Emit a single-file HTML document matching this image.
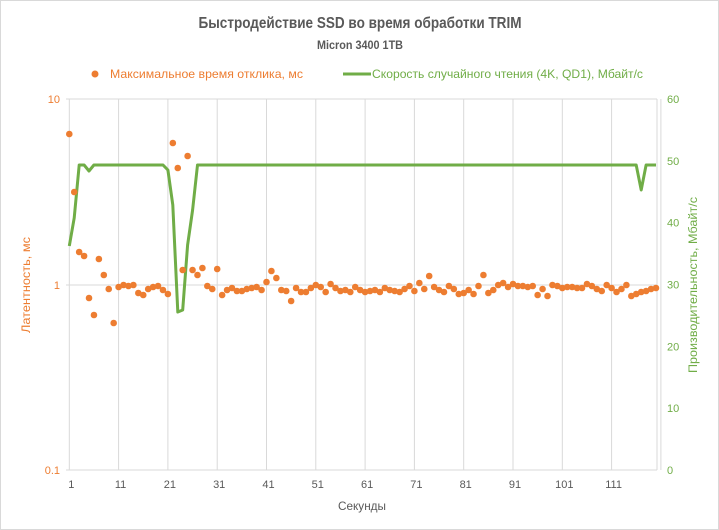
<!DOCTYPE html>
<html><head><meta charset="utf-8">
<style>
html,body{margin:0;padding:0;background:#fff;}
body{width:719px;height:530px;overflow:hidden;}
svg{display:block;font-family:"Liberation Sans","DejaVu Sans",sans-serif;}
</style></head>
<body>
<svg id="c" width="719" height="530" xmlns="http://www.w3.org/2000/svg">
<rect x="0.5" y="0.5" width="718" height="529" fill="#fff" stroke="#d9d9d9"/>
<text x="360" y="28" text-anchor="middle" font-size="16" font-weight="bold" fill="#595959" textLength="323" lengthAdjust="spacingAndGlyphs">Быстродействие SSD во время обработки TRIM</text>
<text x="360" y="49" text-anchor="middle" font-size="12" font-weight="bold" fill="#595959" textLength="86" lengthAdjust="spacingAndGlyphs">Micron 3400 1TB</text>
<circle cx="95" cy="74" r="3.5" fill="#ed7d31"/>
<text x="110" y="78" font-size="12" fill="#ed7d31" textLength="193" lengthAdjust="spacingAndGlyphs">Максимальное время отклика, мс</text>
<line x1="343" y1="74" x2="371" y2="74" stroke="#70ad47" stroke-width="3"/>
<text x="372" y="78" font-size="12" fill="#70ad47" textLength="271" lengthAdjust="spacingAndGlyphs">Скорость случайного чтения (4K, QD1), Мбайт/с</text>
<g id="grid" stroke="#d9d9d9" stroke-width="1"></g>
<g font-size="11" fill="#ed7d31" text-anchor="end">
<text x="60" y="103">10</text><text x="60" y="289">1</text><text x="60" y="474">0.1</text>
</g>
<g id="rt" font-size="11" fill="#70ad47" text-anchor="start"></g>
<g id="xt" font-size="11" fill="#595959" text-anchor="middle"></g>
<text transform="translate(30,285) rotate(-90)" text-anchor="middle" font-size="12" fill="#ed7d31" textLength="96" lengthAdjust="spacingAndGlyphs">Латентность, мс</text>
<text transform="translate(697,285) rotate(-90)" text-anchor="middle" font-size="12" fill="#70ad47" textLength="176" lengthAdjust="spacingAndGlyphs">Производительность, Мбайт/с</text>
<text x="362" y="510" text-anchor="middle" font-size="12" fill="#595959" textLength="48" lengthAdjust="spacingAndGlyphs">Секунды</text>
<polyline id="gl" fill="none" stroke="#70ad47" stroke-width="3" stroke-linejoin="round"/>
<g id="dots" fill="#ed7d31"></g>
</svg>
<script>
var NS="http://www.w3.org/2000/svg";
function el(t,a,p){var e=document.createElementNS(NS,t);for(var k in a)e.setAttribute(k,a[k]);document.getElementById(p).appendChild(e);return e;}
var X0=69.3,DX=4.93,L=66,R=657,T=99,B=470;
function xi(i){return X0+DX*(i-1);}
[99,285,470].forEach(function(y){el('line',{x1:L,x2:R,y1:y,y2:y},'grid');});
for(var v=0;v<=60;v+=10){var y=B-(B-T)*v/60;var t=el('text',{x:667,y:y+4},'rt');t.textContent=v;}
for(var i=1;i<=121;i+=10){var x=xi(i);el('line',{x1:x,x2:x,y1:T,y2:B},'grid');if(i<=111){var t=el('text',{x:x+2,y:488},'xt');t.textContent=i;}}
el('line',{x1:R,x2:R,y1:T,y2:B},'grid');
var ly=[134,192,252,256,298,315,259,275,289,323,287,285,286,285,293,295,289,287,286,290,294,143,168,270,156,270,275,268,286,289,269,295];
var rest=[290,288,291,291,289,288,287,290,282,271,278,290,291,301,288,292,292,288,285,287,292,284,288,291,290,292,287,290,292,291,290,292,288,290,291,292,289,286,291,283,289,276,287,290,292,286,289,294,293,290,294,286,275,293,290,285,283,287,284,286,286,287,286,295,289,296,285,286,288,287,287,288,288,284,286,289,291,285,288,292,289,285,296,294,292,291,289,288,288,289,277,262,286,260,288];
ly=ly.concat(rest);
for(var i=0;i<ly.length&&i<120;i++)el('circle',{cx:xi(i+1),cy:ly[i],r:3.3},'dots');
var gy=[246,218,165,165,171,165,165,165,165,165,165,165,165,165,165,165,165,165,165,165,170,205,312,310,245,210,165,165,165,165,165];
while(gy.length<120)gy.push(165);
gy[116]=190;gy[115]=165;gy[117]=165;
var pts=gy.map(function(y,i){return xi(i+1).toFixed(1)+','+y;}).join(' ');
document.getElementById('gl').setAttribute('points',pts);
</script>
</body></html>
